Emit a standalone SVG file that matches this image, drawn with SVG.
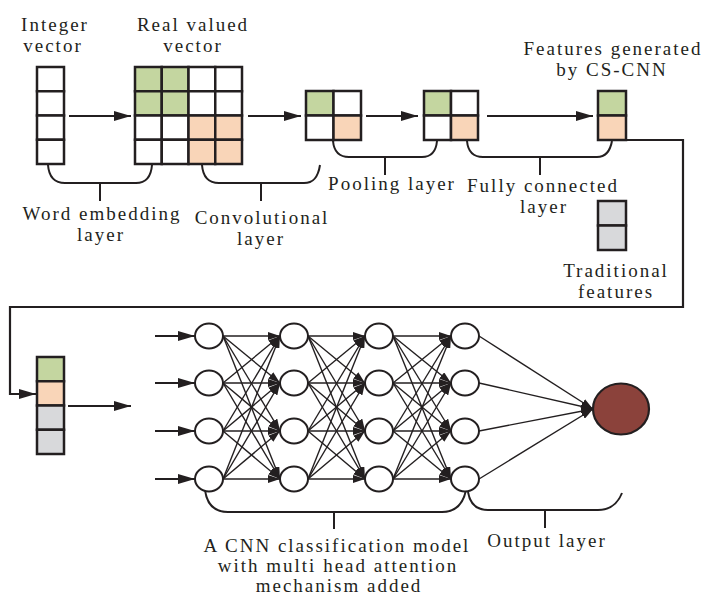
<svg xmlns="http://www.w3.org/2000/svg" width="702" height="596" viewBox="0 0 702 596">
<defs>
<marker id="big" markerUnits="userSpaceOnUse" markerWidth="17" markerHeight="10" refX="17" refY="5" orient="auto"><path d="M0,0 L17,5 L0,10 z" fill="#231f20"/></marker>
<marker id="sm" markerUnits="userSpaceOnUse" markerWidth="12" markerHeight="8" refX="12" refY="4" orient="auto"><path d="M0,0 L12,4 L0,8 z" fill="#231f20"/></marker>
<style>
.t{font-family:"Liberation Serif","Times New Roman",serif;font-size:19px;letter-spacing:2px;fill:#231f20;text-anchor:middle}
.c{stroke:#231f20;stroke-width:2.5}
.w{fill:#fff}.g{fill:#c4d6a0}.o{fill:#f9d5b8}.y{fill:#d8d9db}
.ln{stroke:#231f20;stroke-width:2.2;fill:none}
.br{stroke:#231f20;stroke-width:2;fill:none}
.nl{stroke:#231f20;stroke-width:1.4;fill:none;marker-end:url(#sm)}
.nd{fill:#fff;stroke:#231f20;stroke-width:2}
</style>
</defs>
<rect width="702" height="596" fill="#fff"/>

<g id="integer-vector">
<rect class="c w" x="37" y="67" width="27" height="24.25"/>
<rect class="c w" x="37" y="91.25" width="27" height="24.25"/>
<rect class="c w" x="37" y="115.5" width="27" height="24.25"/>
<rect class="c w" x="37" y="139.75" width="27" height="24.25"/>
<text class="t" font-family="Liberation Serif, serif" x="55" y="31">Integer</text>
<text class="t" font-family="Liberation Serif, serif" x="53" y="52">vector</text>
</g>

<g id="real-valued-vector">
<rect class="c g" x="135" y="67" width="26.75" height="24.25"/>
<rect class="c g" x="161.75" y="67" width="26.75" height="24.25"/>
<rect class="c w" x="188.5" y="67" width="26.75" height="24.25"/>
<rect class="c w" x="215.25" y="67" width="26.75" height="24.25"/>
<rect class="c g" x="135" y="91.25" width="26.75" height="24.25"/>
<rect class="c g" x="161.75" y="91.25" width="26.75" height="24.25"/>
<rect class="c w" x="188.5" y="91.25" width="26.75" height="24.25"/>
<rect class="c w" x="215.25" y="91.25" width="26.75" height="24.25"/>
<rect class="c w" x="135" y="115.5" width="26.75" height="24.25"/>
<rect class="c w" x="161.75" y="115.5" width="26.75" height="24.25"/>
<rect class="c o" x="188.5" y="115.5" width="26.75" height="24.25"/>
<rect class="c o" x="215.25" y="115.5" width="26.75" height="24.25"/>
<rect class="c w" x="135" y="139.75" width="26.75" height="24.25"/>
<rect class="c w" x="161.75" y="139.75" width="26.75" height="24.25"/>
<rect class="c o" x="188.5" y="139.75" width="26.75" height="24.25"/>
<rect class="c o" x="215.25" y="139.75" width="26.75" height="24.25"/>
<text class="t" x="193" y="31">Real valued</text>
<text class="t" x="193" y="52">vector</text>
</g>

<g id="pooling-1">
<rect class="c g" x="306" y="91" width="27.5" height="24.5"/>
<rect class="c w" x="333.5" y="91" width="27.5" height="24.5"/>
<rect class="c w" x="306" y="115.5" width="27.5" height="24.5"/>
<rect class="c o" x="333.5" y="115.5" width="27.5" height="24.5"/>
</g>

<g id="pooling-2">
<rect class="c g" x="424" y="91" width="27" height="24.5"/>
<rect class="c w" x="451" y="91" width="27" height="24.5"/>
<rect class="c w" x="424" y="115.5" width="27" height="24.5"/>
<rect class="c o" x="451" y="115.5" width="27" height="24.5"/>
</g>

<g id="cs-cnn-features">
<rect class="c g" x="598" y="91" width="28" height="24.5"/>
<rect class="c o" x="598" y="115.5" width="28" height="24.5"/>
<text class="t" x="613" y="55">Features generated</text>
<text class="t" x="612" y="76">by CS-CNN</text>
</g>

<g id="traditional-features">
<rect class="c y" x="598" y="201" width="28" height="24.5"/>
<rect class="c y" x="598" y="225.5" width="28" height="24.5"/>
<text class="t" x="616" y="277">Traditional</text>
<text class="t" x="616" y="298">features</text>
</g>

<g id="combined-features">
<rect class="c g" x="37" y="357" width="27" height="24.25"/>
<rect class="c o" x="37" y="381.25" width="27" height="24.25"/>
<rect class="c y" x="37" y="405.5" width="27" height="24.25"/>
<rect class="c y" x="37" y="429.75" width="27" height="24.25"/>
</g>

<g id="labels">
<path class="br" d="M48,165 C49,178 55,183 65,183 H136 C145,183 151,178 152,165 M100,183 V201"/>
<text class="t" x="102" y="220">Word embedding</text>
<text class="t" x="101" y="241">layer</text>
<path class="br" d="M202,165 C203,178 209,183 219,183 H304 C313,183 318,178 320,165 M261,183 V201"/>
<text class="t" x="262" y="224">Convolutional</text>
<text class="t" x="261" y="245">layer</text>
<path class="br" d="M333,141 C334,152 340,157 349,157 H422 C431,157 436,152 437,141 M385,157 V175"/>
<text class="t" x="392" y="190">Pooling layer</text>
<path class="br" d="M467,141 C468,152 474,157 483,157 H597 C605,157 610,152 612,141 M540,157 V175"/>
<text class="t" x="543" y="192">Fully connected</text>
<text class="t" x="544" y="213">layer</text>
<path class="br" d="M205,490 C207,505 215,512 228,512 H442 C455,512 463,505 466,490 M334,512 V529"/>
<text class="t" x="337" y="552">A CNN classification model</text>
<text class="t" x="338" y="572">with multi head attention</text>
<text class="t" x="339" y="592">mechanism added</text>
<path class="br" d="M468,492 C470,504 477,510 488,510 H598 C610,510 618,503 622,493 M545,510 V528"/>
<text class="t" x="547" y="547">Output layer</text>
</g>

<g id="connectors">
<line class="ln" x1="69" y1="116" x2="131" y2="116" marker-end="url(#big)"/>
<line class="ln" x1="248" y1="116" x2="301" y2="116" marker-end="url(#big)"/>
<line class="ln" x1="366" y1="116" x2="418" y2="116" marker-end="url(#big)"/>
<line class="ln" x1="487" y1="116" x2="593" y2="116" marker-end="url(#big)"/>
<path class="ln" d="M626,140 H683 V307 H10 V394 H36" marker-end="url(#big)"/>
<line class="ln" x1="68" y1="406" x2="131" y2="406" marker-end="url(#big)"/>
<line class="ln" x1="155" y1="336" x2="195" y2="336" marker-end="url(#big)"/>
<line class="ln" x1="155" y1="383" x2="195" y2="383" marker-end="url(#big)"/>
<line class="ln" x1="155" y1="431" x2="195" y2="431" marker-end="url(#big)"/>
<line class="ln" x1="155" y1="479" x2="195" y2="479" marker-end="url(#big)"/>

<line class="nl" x1="223" y1="336" x2="280" y2="336"/><line class="nl" x1="223" y1="336" x2="280" y2="383"/><line class="nl" x1="223" y1="336" x2="280" y2="431"/><line class="nl" x1="223" y1="336" x2="280" y2="479"/>
<line class="nl" x1="223" y1="383" x2="280" y2="336"/><line class="nl" x1="223" y1="383" x2="280" y2="383"/><line class="nl" x1="223" y1="383" x2="280" y2="431"/><line class="nl" x1="223" y1="383" x2="280" y2="479"/>
<line class="nl" x1="223" y1="431" x2="280" y2="336"/><line class="nl" x1="223" y1="431" x2="280" y2="383"/><line class="nl" x1="223" y1="431" x2="280" y2="431"/><line class="nl" x1="223" y1="431" x2="280" y2="479"/>
<line class="nl" x1="223" y1="479" x2="280" y2="336"/><line class="nl" x1="223" y1="479" x2="280" y2="383"/><line class="nl" x1="223" y1="479" x2="280" y2="431"/><line class="nl" x1="223" y1="479" x2="280" y2="479"/>

<line class="nl" x1="308" y1="336" x2="365" y2="336"/><line class="nl" x1="308" y1="336" x2="365" y2="383"/><line class="nl" x1="308" y1="336" x2="365" y2="431"/><line class="nl" x1="308" y1="336" x2="365" y2="479"/>
<line class="nl" x1="308" y1="383" x2="365" y2="336"/><line class="nl" x1="308" y1="383" x2="365" y2="383"/><line class="nl" x1="308" y1="383" x2="365" y2="431"/><line class="nl" x1="308" y1="383" x2="365" y2="479"/>
<line class="nl" x1="308" y1="431" x2="365" y2="336"/><line class="nl" x1="308" y1="431" x2="365" y2="383"/><line class="nl" x1="308" y1="431" x2="365" y2="431"/><line class="nl" x1="308" y1="431" x2="365" y2="479"/>
<line class="nl" x1="308" y1="479" x2="365" y2="336"/><line class="nl" x1="308" y1="479" x2="365" y2="383"/><line class="nl" x1="308" y1="479" x2="365" y2="431"/><line class="nl" x1="308" y1="479" x2="365" y2="479"/>

<line class="nl" x1="393" y1="336" x2="451" y2="336"/><line class="nl" x1="393" y1="336" x2="451" y2="383"/><line class="nl" x1="393" y1="336" x2="451" y2="431"/><line class="nl" x1="393" y1="336" x2="451" y2="479"/>
<line class="nl" x1="393" y1="383" x2="451" y2="336"/><line class="nl" x1="393" y1="383" x2="451" y2="383"/><line class="nl" x1="393" y1="383" x2="451" y2="431"/><line class="nl" x1="393" y1="383" x2="451" y2="479"/>
<line class="nl" x1="393" y1="431" x2="451" y2="336"/><line class="nl" x1="393" y1="431" x2="451" y2="383"/><line class="nl" x1="393" y1="431" x2="451" y2="431"/><line class="nl" x1="393" y1="431" x2="451" y2="479"/>
<line class="nl" x1="393" y1="479" x2="451" y2="336"/><line class="nl" x1="393" y1="479" x2="451" y2="383"/><line class="nl" x1="393" y1="479" x2="451" y2="431"/><line class="nl" x1="393" y1="479" x2="451" y2="479"/>

<line class="nl" x1="479" y1="336" x2="593" y2="409"/>
<line class="nl" x1="479" y1="383" x2="593" y2="409"/>
<line class="nl" x1="479" y1="431" x2="593" y2="409"/>
<line class="nl" x1="479" y1="479" x2="593" y2="409"/>
</g>

<g id="layer-1">
<ellipse class="nd" cx="209" cy="336" rx="14" ry="12.5"/>
<ellipse class="nd" cx="209" cy="383" rx="14" ry="12.5"/>
<ellipse class="nd" cx="209" cy="431" rx="14" ry="12.5"/>
<ellipse class="nd" cx="209" cy="479" rx="14" ry="12.5"/>
</g>
<g id="layer-2">
<ellipse class="nd" cx="294" cy="336" rx="14" ry="12.5"/>
<ellipse class="nd" cx="294" cy="383" rx="14" ry="12.5"/>
<ellipse class="nd" cx="294" cy="431" rx="14" ry="12.5"/>
<ellipse class="nd" cx="294" cy="479" rx="14" ry="12.5"/>
</g>
<g id="layer-3">
<ellipse class="nd" cx="379" cy="336" rx="14" ry="12.5"/>
<ellipse class="nd" cx="379" cy="383" rx="14" ry="12.5"/>
<ellipse class="nd" cx="379" cy="431" rx="14" ry="12.5"/>
<ellipse class="nd" cx="379" cy="479" rx="14" ry="12.5"/>
</g>
<g id="layer-4">
<ellipse class="nd" cx="465" cy="336" rx="14" ry="12.5"/>
<ellipse class="nd" cx="465" cy="383" rx="14" ry="12.5"/>
<ellipse class="nd" cx="465" cy="431" rx="14" ry="12.5"/>
<ellipse class="nd" cx="465" cy="479" rx="14" ry="12.5"/>
</g>
<g id="output-node">
<ellipse cx="621" cy="409" rx="28" ry="25.5" fill="#8b423b" stroke="#231f20" stroke-width="2.2"/>
</g>
</svg>
